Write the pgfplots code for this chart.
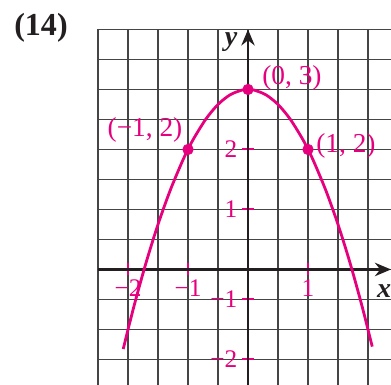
\documentclass[border=0pt]{standalone}
\usepackage{pgfplots}
\pgfplotsset{compat=1.18}
\usepackage{fontspec}
\setmainfont{Liberation Serif}
\usetikzlibrary{arrows.meta}
\definecolor{pk}{HTML}{E6007E}
\definecolor{gridc}{HTML}{454545}
\definecolor{axc}{HTML}{231F20}

\begin{document}
\begin{tikzpicture}
\begin{axis}[
  name=ax,
  x=45pt, y=45pt,
  xmin=-2.5, xmax=2.383, ymin=-1.925, ymax=4,
  axis lines=middle,
  axis line style={draw=axc, line width=2.2pt, -{Stealth[length=12pt,width=10pt]}},
  clip=false,
  xtick={-2,-1,1}, xticklabels={−2,−1,1},
  ytick={-1.5,-0.5,1,2}, yticklabels={−2,−1,1,2},
  minor xtick={-2.5,-2,...,2},
  minor ytick={-1.5,-1,...,4},
  grid=minor,
  minor grid style={draw=gridc, line width=0.9pt},
  minor tick length=0pt,
  major tick length=9pt,
  tick align=center,
  major tick style={draw=pk, line width=1.5pt},
  tick label style={text=pk, font=\fontsize{19}{21}\selectfont},
]
  % y = 3 - x^2
  \addplot[pk, line width=2.1pt, smooth] coordinates {
    (-2.08,-1.326) (-1.9,-0.61) (-1.7,0.11) (-1.5,0.75) (-1.3,1.31) (-1.1,1.79)
    (-1,2) (-0.9,2.19) (-0.7,2.51) (-0.5,2.75) (-0.3,2.91) (-0.1,2.99) (0,3)
    (0.1,2.99) (0.3,2.91) (0.5,2.75) (0.7,2.51) (0.9,2.19) (1,2) (1.1,1.79)
    (1.3,1.31) (1.5,0.75) (1.7,0.11) (1.9,-0.61) (2.07,-1.285)
  };
  \addplot[only marks, mark=*, mark size=4pt, pk] coordinates {(-1,2) (0,3) (1,2)};

  \node[text=pk, font=\fontsize{20.5}{22}\selectfont] at (axis cs:0.733,3.19) {(0, 3)};
  \node[text=pk, font=\fontsize{20.5}{22}\selectfont] at (axis cs:1.633,2.06) {(1, 2)};
  \node[text=pk, font=\fontsize{20.5}{22}\selectfont] at (axis cs:-1.717,2.325) {(−1, 2)};
  \node[text=axc, font=\fontsize{21}{23}\selectfont\bfseries\itshape] at (axis cs:-0.283,3.79) {y};
  \node[text=axc, font=\fontsize{21}{23}\selectfont\bfseries\itshape, inner sep=0pt] at (axis cs:2.27,-0.36) {x};
  \node[text=axc, font=\fontsize{24}{26}\selectfont\bfseries] at (axis cs:-3.45,4.025) {(14)};
\end{axis}
\pgfresetboundingbox
\path ([xshift=-73.5pt]ax.south west) rectangle ([yshift=22.1pt]ax.north east);
\end{tikzpicture}
\end{document}
